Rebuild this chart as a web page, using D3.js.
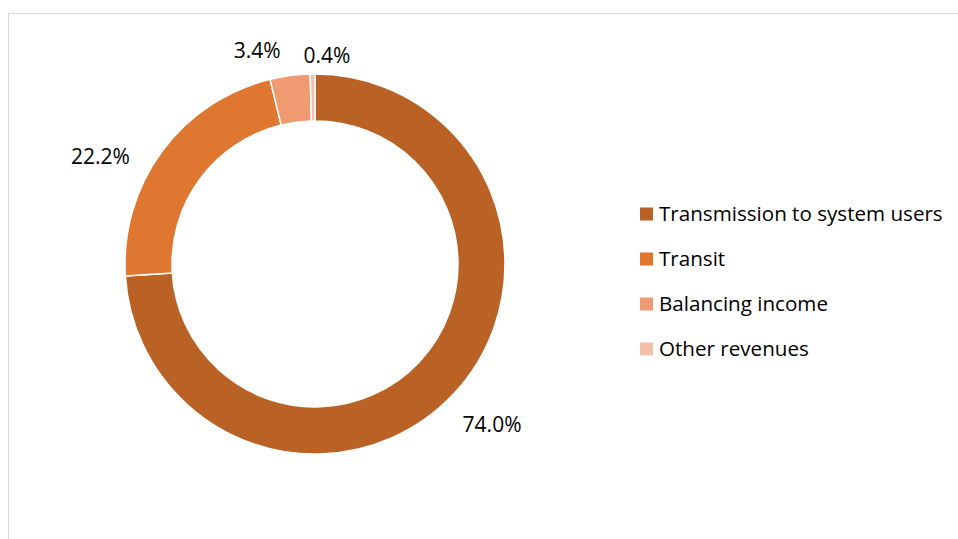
<!DOCTYPE html>
<html>
<head>
<meta charset="utf-8">
<script src="https://cdn.jsdelivr.net/npm/d3@7"></script>
<style>
  body { margin: 0; background: #fff; }
  text { font-family: "Open Sans", sans-serif; fill: #000; }
</style>
</head>
<body>
<script>
const width = 958;
const height = 539;

const categories = ["Transmission to system users", "Transit", "Balancing income", "Other revenues"];
const shares = [74.0, 22.2, 3.4, 0.4];
const colors = ["#BA6226", "#DF7730", "#F09A72", "#F4C0AB"];

// label placement tweaks (angle shift in degrees, distance from centre)
const labelShift = [-1, -9.8, -7.6, 4];
const labelDist = [239, 240, 221, 209];

const cx = 315, cy = 264;
const outerR = 190, innerR = 143;

const svg = d3.select("body")
  .append("svg")
  .attr("width", width)
  .attr("height", height);

// chart frame
svg.append("rect")
  .attr("x", 8.5)
  .attr("y", 13.5)
  .attr("width", width + 10)
  .attr("height", height + 10)
  .attr("fill", "none")
  .attr("stroke", "#d9d9d9");

const pie = d3.pie().sort(null).value(d => d);
const arcs = pie(shares);

const arc = d3.arc().innerRadius(innerR).outerRadius(outerR);

const g = svg.append("g").attr("transform", `translate(${cx},${cy})`);

g.selectAll(".slice")
  .data(arcs)
  .enter()
  .append("path")
  .attr("class", "slice")
  .attr("d", arc)
  .attr("fill", (d, i) => colors[i])
  .attr("stroke", "#fff")
  .attr("stroke-width", 1.5);

function labelPos(d, i) {
  const a = (d.startAngle + d.endAngle) / 2 + labelShift[i] * Math.PI / 180;
  return [Math.sin(a) * labelDist[i], -Math.cos(a) * labelDist[i]];
}

g.selectAll(".label")
  .data(arcs)
  .enter()
  .append("text")
  .attr("class", "label")
  .attr("x", (d, i) => labelPos(d, i)[0])
  .attr("y", (d, i) => labelPos(d, i)[1])
  .attr("dy", "0.36em")
  .attr("text-anchor", "middle")
  .style("font-size", "21px")
  .text(d => d.data.toFixed(1) + "%");

// legend
const legend = svg.append("g").attr("transform", "translate(640,214)");
const row = legend.selectAll(".item")
  .data(categories)
  .enter()
  .append("g")
  .attr("class", "item")
  .attr("transform", (d, i) => `translate(0,${i * 45})`);

row.append("rect")
  .attr("x", 0)
  .attr("y", -6.5)
  .attr("width", 13)
  .attr("height", 13)
  .attr("fill", (d, i) => colors[i]);

row.append("text")
  .attr("x", 19)
  .attr("y", 0)
  .attr("dy", "0.36em")
  .style("font-size", "20.6px")
  .text(d => d);
</script>
</body>
</html>
